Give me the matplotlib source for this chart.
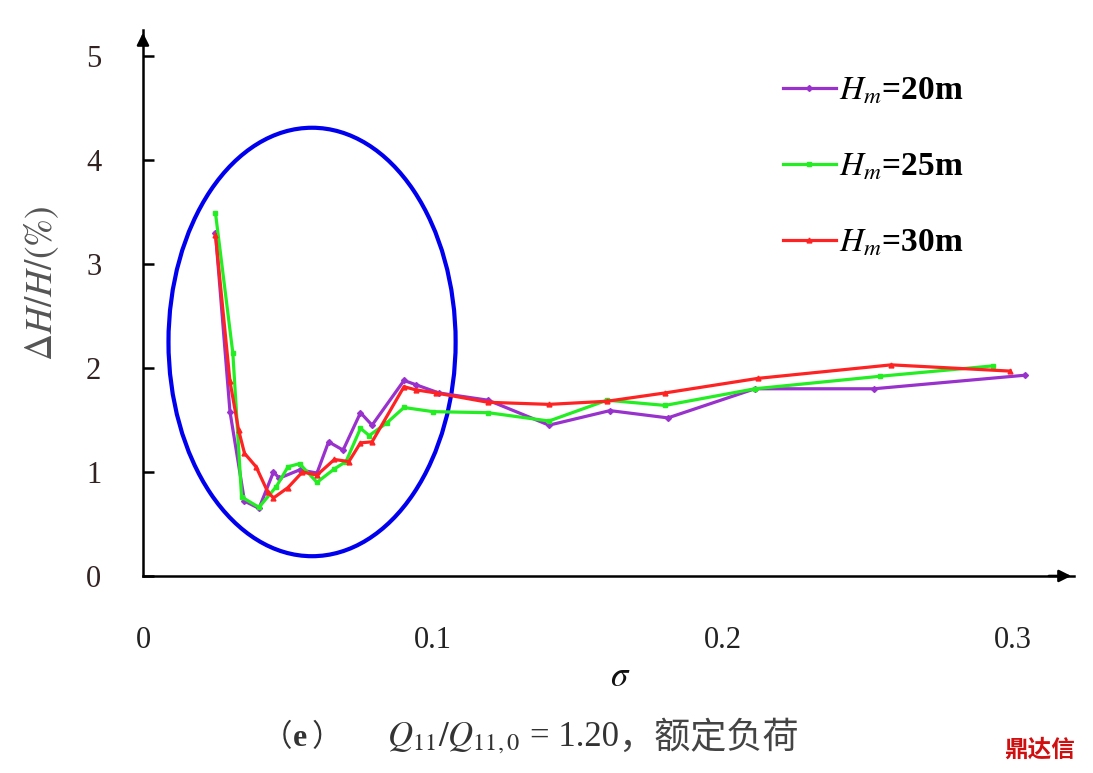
import matplotlib
matplotlib.use("Agg")
import matplotlib.pyplot as plt
from matplotlib.patches import Ellipse

plt.rcParams['font.family'] = ['Liberation Serif', 'Noto Sans CJK SC', 'DejaVu Sans']
plt.rcParams['mathtext.fontset'] = 'stix'

# ---- data ----
x20 = [0.025, 0.030, 0.035, 0.040, 0.045, 0.047, 0.054, 0.060, 0.064, 0.069, 0.075, 0.079,
       0.090, 0.094, 0.102, 0.119, 0.140, 0.161, 0.181, 0.211, 0.252, 0.304]
y20 = [3.30, 1.58, 0.72, 0.65, 1.00, 0.94, 1.02, 0.99, 1.29, 1.21, 1.57, 1.45,
       1.88, 1.84, 1.76, 1.69, 1.45, 1.59, 1.52, 1.80, 1.80, 1.93]

x25 = [0.025, 0.031, 0.034, 0.040, 0.046, 0.050, 0.054, 0.060, 0.066, 0.070, 0.075, 0.078,
       0.084, 0.090, 0.100, 0.119, 0.140, 0.160, 0.180, 0.211, 0.254, 0.293]
y25 = [3.49, 2.14, 0.76, 0.66, 0.86, 1.05, 1.08, 0.90, 1.03, 1.10, 1.42, 1.35,
       1.47, 1.62, 1.58, 1.57, 1.49, 1.69, 1.64, 1.80, 1.92, 2.02]

x30 = [0.025, 0.030, 0.033, 0.035, 0.039, 0.043, 0.045, 0.050, 0.055, 0.060, 0.066, 0.071,
       0.075, 0.079, 0.090, 0.094, 0.101, 0.119, 0.140, 0.160, 0.180, 0.212, 0.258, 0.299]
y30 = [3.28, 1.87, 1.40, 1.18, 1.05, 0.81, 0.75, 0.85, 1.00, 0.97, 1.12, 1.10,
       1.28, 1.29, 1.82, 1.79, 1.76, 1.67, 1.65, 1.68, 1.76, 1.90, 2.03, 1.97]

labels = ['$H_m$=20m', '$H_m$=25m', '$H_m$=30m']
xticks = [0, 0.1, 0.2, 0.3]
xticklabels = ['0', '0.1', '0.2', '0.3']
yticks = [0, 1, 2, 3, 4, 5]

# ---- figure ----
fig = plt.figure(figsize=(10.93, 7.73), dpi=100)
ax = fig.add_axes([0.1308, 0.2549, 0.8518, 0.7063])

c20, c25, c30 = '#9932CC', '#22EE22', '#FF2222'
ax.plot(x20, y20, color=c20, lw=2.3, marker='D', ms=3.0, label=labels[0])
ax.plot(x25, y25, color=c25, lw=2.3, marker='s', ms=2.8, label=labels[1])
ax.plot(x30, y30, color=c30, lw=2.3, marker='^', ms=3.5, label=labels[2])

ell = Ellipse((0.0583, 2.25), 0.099, 4.12, fill=False, edgecolor='#0000EE', lw=3)
ax.add_patch(ell)

ax.set_xlim(0, 0.321)
ax.set_ylim(0, 5.25)

for s in ['top', 'right']:
    ax.spines[s].set_visible(False)
for s in ['left', 'bottom']:
    ax.spines[s].set_linewidth(1.8)
    ax.spines[s].set_color('black')

ax.set_xticks(xticks)
ax.set_xticklabels(xticklabels)
ax.set_yticks(yticks)
ax.tick_params(axis='x', length=0, pad=36, labelsize=22, labelcolor='#222222')
ax.tick_params(axis='y', direction='in', length=8, width=1.8, pad=30, labelsize=22,
               labelcolor='#332222')

# axis arrows
ax.annotate('', xy=(1.0, 0), xytext=(0.97, 0), xycoords='axes fraction',
            arrowprops=dict(arrowstyle='-|>', color='black', lw=1.8, mutation_scale=18))
ax.annotate('', xy=(0, 1.0), xytext=(0, 0.97), xycoords='axes fraction',
            arrowprops=dict(arrowstyle='-|>', color='black', lw=1.8, mutation_scale=18))

leg = ax.legend(loc='upper left', bbox_to_anchor=(0.687, 0.917), frameon=False,
                fontsize=24, handlelength=1.6, handletextpad=0.1, labelspacing=1.35,
                borderpad=0, borderaxespad=0)
for t in leg.get_texts():
    t.set_fontweight('bold')

fig.text(620 / 1093, 1 - 678 / 773, r'$\sigma$', fontsize=25, ha='center', va='center',
         color='#111111')
fig.text(42 / 1093, 1 - 283 / 773, r'$\Delta H/H/(\%)$', fontsize=27, rotation=90,
         ha='center', va='center', color='#555555')

cap_y = 1 - 738 / 773
fig.text(262 / 1093, cap_y, '（', fontsize=22, ha='left', va='center',
         color='#333333', family=['Noto Sans CJK SC'])
fig.text(300 / 1093, cap_y, 'e', fontsize=23, ha='center', va='center',
         color='#333333', fontweight='bold', family=['Liberation Serif'])
fig.text(312 / 1093, cap_y, '）', fontsize=22, ha='left', va='center',
         color='#333333', family=['Noto Sans CJK SC'])
fig.text(387 / 1093, cap_y, r'$Q_{11}/Q_{11,0}$', fontsize=25, ha='left', va='center',
         color='#333333')
fig.text(530 / 1093, cap_y, '= 1.20', fontsize=25, ha='left', va='center',
         color='#333333', family=['Liberation Serif'])
fig.text(618 / 1093, cap_y, '，额定负荷', fontsize=26, ha='left', va='center',
         color='#444444', family=['Noto Sans CJK SC'])
fig.text(1040 / 1093, 1 - 750 / 773, '鼎达信', fontsize=17, ha='center', va='center',
         color='#D01010', fontweight='bold', family=['Noto Sans CJK SC'])

fig.savefig('out.png', dpi=100)
